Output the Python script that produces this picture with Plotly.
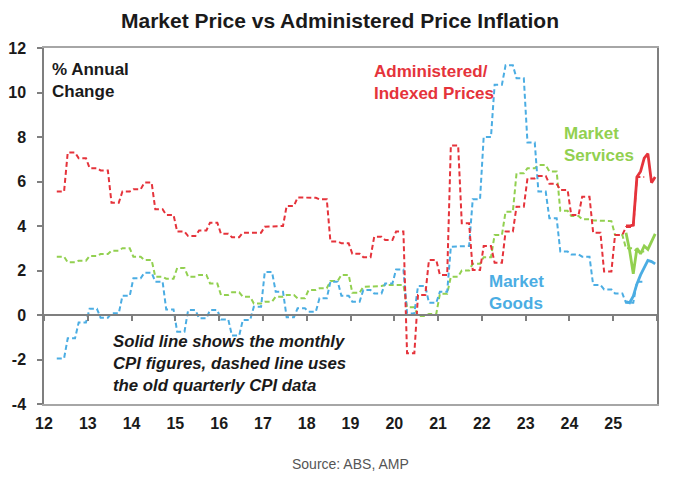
import numpy as np
import plotly.graph_objects as go

# quarterly CPI series (% annual change), Jun qtr 2012 .. Sep qtr 2025
admin_q = [5.55, 7.3, 7.05, 6.6, 6.5, 5.05, 5.55, 5.65, 5.95, 4.75, 4.5, 3.75,
           3.55, 3.8, 4.15, 3.65, 3.5, 3.7, 3.7, 3.97, 4.0, 4.9, 5.28, 5.27,
           5.2, 3.3, 3.22, 2.75, 2.6, 3.52, 3.37, 3.75, -1.72, 0.9, 2.47, 1.8,
           7.62, 4.12, 2.02, 3.1, 2.35, 3.75, 4.87, 6.14, 6.25, 5.9, 5.62, 4.49,
           5.32, 3.7, 1.95, 3.6, 3.95, 6.2]
services_q = [2.62, 2.37, 2.44, 2.65, 2.74, 2.89, 3.0, 2.62, 2.47, 1.72, 1.63, 2.11,
              1.72, 1.8, 1.42, 0.9, 1.02, 0.82, 0.52, 0.6, 0.82, 0.9, 0.75, 1.12,
              1.2, 1.53, 1.8, 1.0, 1.27, 1.3, 1.35, 1.35, 0.35, -0.05, 0.05, 0.95,
              1.72, 2.0, 2.3, 2.6, 3.6, 4.64, 6.37, 6.6, 6.74, 6.45, 4.68, 4.45,
              4.3, 4.25, 4.22, 3.6, 3.0, 2.85]
goods_q = [-1.95, -1.05, -0.34, 0.28, -0.12, 0.08, 0.86, 1.65, 1.9, 1.5, 0.25, -0.75,
           0.22, -0.15, 0.22, -0.2, -0.92, -0.22, 0.37, 1.93, 1.05, -0.1, 0.3, 0.15,
           0.75, 1.5, 0.87, 0.6, 1.12, 0.97, 1.42, 2.05, 0.07, 1.3, 0.55, 1.05,
           3.07, 3.1, 5.2, 8.0, 10.35, 11.22, 10.64, 7.75, 5.55, 4.35, 2.85, 2.72,
           2.62, 1.35, 1.15, 0.97, 0.55, 1.5]

# monthly CPI series, Apr 2025 .. Dec 2025
admin_m = [4.0, 4.0, 4.05, 6.2, 6.45, 7.05, 7.25, 5.95, 6.2]
services_m = [3.7, 2.9, 1.85, 3.0, 2.75, 3.1, 2.95, 3.3, 3.65]
goods_m = [0.6, 0.55, 0.85, 1.4, 1.8, 2.15, 2.45, 2.4, 2.3]

year_ticks = list(range(12, 26))
y_ticks = [-4, -2, 0, 2, 4, 6, 8, 10, 12]
y_labels = ['-4', '-2', '0', '2', '4', '6', '8', '10', '12']

# x axis is in 2-digit years; months counted from Jan 2012
q_start_month = 3   # Apr 2012
m_start_month = 159  # Apr 2025


def month_x(m):
    return 12 + (np.asarray(m) + 0.5) / 12


# quarterly values are held across the three months of each quarter
q_months = q_start_month + np.arange(3 * len(admin_q))
xq = month_x(q_months)
xm = month_x(m_start_month + np.arange(len(admin_m)))

RED = '#E5333B'
GREEN = '#92D050'
BLUE = '#4BADE3'

fig = go.Figure()

for vals, col, name in [(services_q, GREEN, 'Market Services'),
                        (goods_q, BLUE, 'Market Goods'),
                        (admin_q, RED, 'Administered/Indexed Prices')]:
    fig.add_trace(go.Scatter(x=xq, y=np.repeat(vals, 3), mode='lines', name=name,
                             line=dict(color=col, width=2, dash='5px,3px')))

for vals, col, name in [(services_m, GREEN, 'Market Services (monthly)'),
                        (goods_m, BLUE, 'Market Goods (monthly)'),
                        (admin_m, RED, 'Administered/Indexed (monthly)')]:
    fig.add_trace(go.Scatter(x=xm, y=vals, mode='lines', name=name, xaxis='x2',
                             line=dict(color=col, width=2.8)))

FONT = 'Liberation Sans, Arial, sans-serif'
tickfont = dict(family=FONT, size=16, color='#1a1a1a', weight='bold')

# the page body has an 8px margin, so the figure is a bit smaller than the window
fig.update_layout(
    width=664, height=465,
    margin=dict(l=36, r=15, t=40, b=69),
    paper_bgcolor='white', plot_bgcolor='white',
    showlegend=False,
    title=dict(text='Market Price vs Administered Price Inflation',
               x=0.5, xanchor='center', y=0.972, yanchor='middle',
               font=dict(family=FONT, size=21, color='#1a1a1a', weight='bold')),
    xaxis=dict(range=[12, 26], tickvals=year_ticks, ticktext=[str(t) for t in year_ticks],
               showgrid=False, zeroline=False, showline=True, linecolor='#a6a6a6',
               linewidth=1.5, mirror=True, ticks='outside', ticklen=4,
               tickcolor='rgba(0,0,0,0)', tickfont=tickfont, automargin=False),
    xaxis2=dict(range=[12, 26], overlaying='x', anchor='free', position=0.25,
                tickvals=year_ticks + [26], showticklabels=False, showgrid=False,
                zeroline=False, showline=True, linecolor='#7f7f7f', linewidth=1.5,
                ticks='outside', ticklen=5, tickcolor='#7f7f7f', tickwidth=1.5,
                automargin=False),
    yaxis=dict(range=[-4, 12], tickvals=y_ticks, ticktext=y_labels, showgrid=False,
               zeroline=False, showline=True, linecolor='#7f7f7f', linewidth=1.5,
               mirror=True, ticks='outside', ticklen=5, tickcolor='#7f7f7f',
               tickwidth=1.5, ticklabelstandoff=8, tickfont=tickfont, automargin=False),
)

label = dict(xref='paper', yref='paper', showarrow=False, xanchor='left', yanchor='top',
             align='left')
fig.add_annotation(text='% Annual<br>Change', x=0.009, y=0.972,
                   font=dict(family=FONT, size=17, color='#1a1a1a', weight='bold'), **label)
fig.add_annotation(text='Administered/<br>Indexed Prices', x=0.535, y=0.967,
                   font=dict(family=FONT, size=17, color=RED, weight='bold'), **label)
fig.add_annotation(text='Market<br>Services', x=0.845, y=0.792,
                   font=dict(family=FONT, size=17, color=GREEN, weight='bold'), **label)
fig.add_annotation(text='Market<br>Goods', x=0.722, y=0.377,
                   font=dict(family=FONT, size=17, color=BLUE, weight='bold'), **label)
fig.add_annotation(text='Solid line shows the monthly<br>CPI figures, dashed line uses'
                        '<br>the old quarterly CPI data',
                   x=0.11, y=0.207,
                   font=dict(family=FONT, size=16.8, color='#1a1a1a', weight='bold',
                             style='italic'), **label)
fig.add_annotation(text='Source: ABS, AMP', xref='paper', yref='paper', x=0.5, y=-0.168,
                   xanchor='center', yanchor='middle', showarrow=False,
                   font=dict(family=FONT, size=14, color='#555555'))

fig.write_html("out.html")
